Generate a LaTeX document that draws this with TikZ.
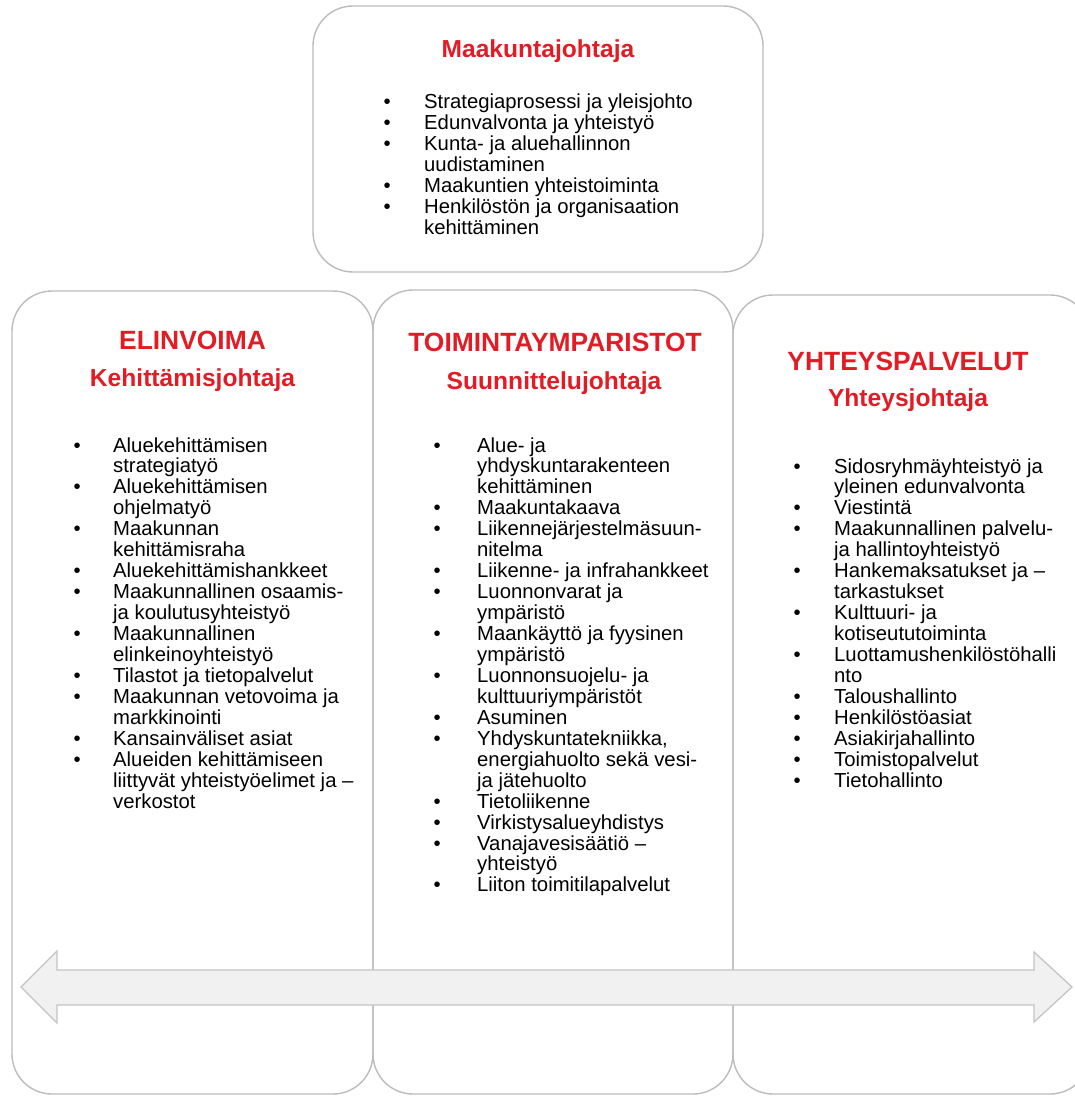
\documentclass[tikz,border=0pt]{standalone}
\usepackage{fontspec}
\setmainfont{Liberation Sans}
\usepackage{array}
\usetikzlibrary{positioning}
\definecolor{orgedge}{RGB}{188,188,188}
\definecolor{orgred}{RGB}{226,28,36}
\definecolor{orgfill}{RGB}{241,241,241}
\definecolor{orgarrow}{RGB}{196,196,196}
\newcommand{\bodysize}{\fontsize{20.3}{20.8}\selectfont}
\newcommand{\orglist}[2]{\begin{tabular}[t]{@{}p{#1}@{}l@{}}#2\end{tabular}}
\newcommand{\bl}{\textbullet}
\tikzset{
  panel/.style={draw=orgedge, line width=1.4pt, rounded corners=40pt, inner sep=0pt},
  head/.style={text=orgred, font=\fontsize{26.4}{28}\selectfont\bfseries, inner sep=0pt, anchor=base},
  subhead/.style={text=orgred, font=\fontsize{24.6}{26}\selectfont\bfseries, inner sep=0pt, anchor=base},
  items/.style={anchor=base west, inner sep=0pt, font=\bodysize, align=left},
  bigarrow/.style={draw=orgarrow, fill=orgfill, line width=1.3pt, line join=miter}
}
\begin{document}
\begin{tikzpicture}[x=1pt, y=-1pt]
  \useasboundingbox (0,0) rectangle (1075,1097);
  \clip (0,0) rectangle (1075,1097);

  % boxes
  \node[panel, minimum width=450pt, minimum height=266pt] (chief) at (538,139) {};
  \node[panel, minimum width=361pt, minimum height=803pt] (elin) at (192.5,692.5) {};
  \node[panel, minimum width=360pt, minimum height=804pt] (toim) at (553,692) {};
  \node[panel, minimum width=357pt, minimum height=799pt] (yht) at (911.5,694.5) {};

  % top box
  \node[subhead] (chiefT) at (538,58) {Maakuntajohtaja};
  \node[items] (chiefL) at (383.5,109) {\orglist{40.5pt}{%
    \bl & Strategiaprosessi ja yleisjohto\\
    \bl & Edunvalvonta ja yhteistyö\\
    \bl & Kunta- ja aluehallinnon\\
        & uudistaminen\\
    \bl & Maakuntien yhteistoiminta\\
    \bl & Henkilöstön ja organisaation\\
        & kehittäminen}};

  % left column
  \node[head] (elinT) at (192.5,349.5) {ELINVOIMA};
  \node[subhead] (elinS) at (192.5,386) {Kehittämisjohtaja};
  \node[items] (elinL) at (73.5,452) {\orglist{39.5pt}{%
    \bl & Aluekehittämisen\\
        & strategiatyö\\
    \bl & Aluekehittämisen\\
        & ohjelmatyö\\
    \bl & Maakunnan\\
        & kehittämisraha\\
    \bl & Aluekehittämishankkeet\\
    \bl & Maakunnallinen osaamis-\\
        & ja koulutusyhteistyö\\
    \bl & Maakunnallinen\\
        & elinkeinoyhteistyö\\
    \bl & Tilastot ja tietopalvelut\\
    \bl & Maakunnan vetovoima ja\\
        & markkinointi\\
    \bl & Kansainväliset asiat\\
    \bl & Alueiden kehittämiseen\\
        & liittyvät yhteistyöelimet ja –\\
        & verkostot}};

  % middle column
  \node[head] (toimT) at (555,351.5) {TOIMINTAYMPARISTOT};
  \node[subhead] (toimS) at (554,389) {Suunnittelujohtaja};
  \node[items] (toimL) at (433.5,452) {\orglist{43.5pt}{%
    \bl & Alue- ja\\
        & yhdyskuntarakenteen\\
        & kehittäminen\\
    \bl & Maakuntakaava\\
    \bl & Liikennejärjestelmäsuun-\\
        & nitelma\\
    \bl & Liikenne- ja infrahankkeet\\
    \bl & Luonnonvarat ja\\
        & ympäristö\\
    \bl & Maankäyttö ja fyysinen\\
        & ympäristö\\
    \bl & Luonnonsuojelu- ja\\
        & kulttuuriympäristöt\\
    \bl & Asuminen\\
    \bl & Yhdyskuntatekniikka,\\
        & energiahuolto sekä vesi-\\
        & ja jätehuolto\\
    \bl & Tietoliikenne\\
    \bl & Virkistysalueyhdistys\\
    \bl & Vanajavesisäätiö –\\
        & yhteistyö\\
    \bl & Liiton toimitilapalvelut}};

  % right column
  \node[head] (yhtT) at (908,370.5) {YHTEYSPALVELUT};
  \node[subhead] (yhtS) at (908,406) {Yhteysjohtaja};
  \node[items] (yhtL) at (793.5,473) {\orglist{40.5pt}{%
    \bl & Sidosryhmäyhteistyö ja\\
        & yleinen edunvalvonta\\
    \bl & Viestintä\\
    \bl & Maakunnallinen palvelu-\\
        & ja hallintoyhteistyö\\
    \bl & Hankemaksatukset ja –\\
        & tarkastukset\\
    \bl & Kulttuuri- ja\\
        & kotiseututoiminta\\
    \bl & Luottamushenkilöstöhalli\\
        & nto\\
    \bl & Taloushallinto\\
    \bl & Henkilöstöasiat\\
    \bl & Asiakirjahallinto\\
    \bl & Toimistopalvelut\\
    \bl & Tietohallinto}};

  % double arrow across the columns
  \draw[bigarrow] (21,987) -- (57,951) -- (57,970) -- (1034,970) -- (1034,952)
    -- (1072,987) -- (1034,1022) -- (1034,1005) -- (57,1005) -- (57,1023) -- cycle;
\end{tikzpicture}
\end{document}
